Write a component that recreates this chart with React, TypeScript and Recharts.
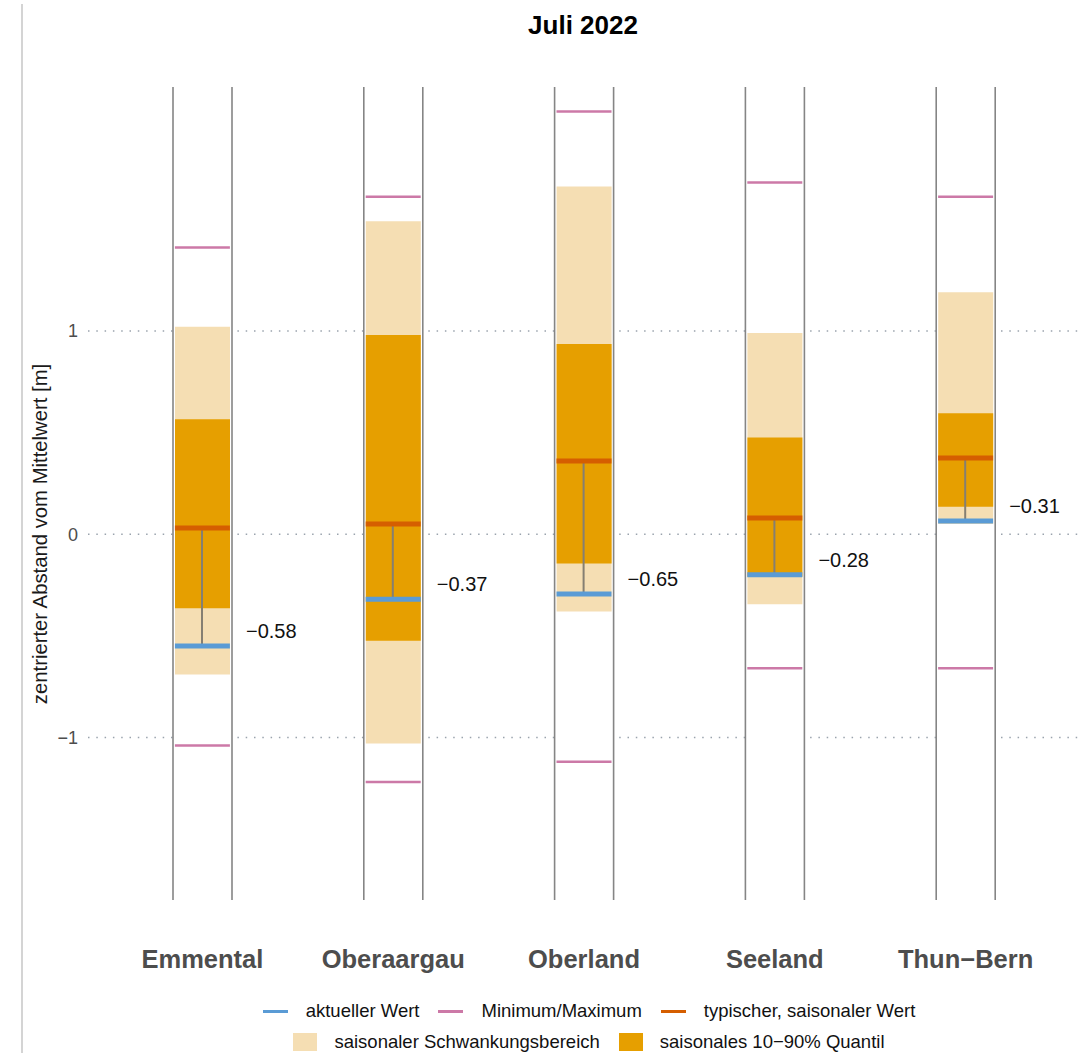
import {
  ComposedChart,
  Bar,
  Scatter,
  XAxis,
  YAxis,
  CartesianGrid,
  LabelList,
} from "recharts";

const regionen = ["Emmental", "Oberaargau", "Oberland", "Seeland", "Thun−Bern"];
const aktuell = [-0.55, -0.32, -0.295, -0.2, 0.065];
const typisch = [0.03, 0.05, 0.36, 0.08, 0.375];
const minimum = [-1.04, -1.22, -1.12, -0.66, -0.66];
const maximum = [1.41, 1.66, 2.08, 1.73, 1.66];
const schwankungUnten = [-0.69, -1.03, -0.38, -0.345, 0.05];
const schwankungOben = [1.02, 1.54, 1.71, 0.99, 1.19];
const quantil10 = [-0.365, -0.525, -0.145, -0.21, 0.135];
const quantil90 = [0.565, 0.98, 0.935, 0.475, 0.595];
const abweichung = [-0.58, -0.37, -0.65, -0.28, -0.31];
const yTicks = [-1, 0, 1];
const yDomain = [-1.8, 2.2];

const FONT = '"Liberation Sans", Arial, sans-serif';
const C_BAND = "#F5DEB3";
const C_QUANT = "#E69F00";
const C_TYP = "#D55E00";
const C_AKT = "#5A9BD5";
const C_MINMAX = "#CC79A7";

const data = regionen.map((region, i) => ({
  region,
  panel: yDomain,
  band: [schwankungUnten[i], schwankungOben[i]],
  quantil: [quantil10[i], quantil90[i]],
  verbindung: [aktuell[i], typisch[i]],
  typisch: typisch[i],
  aktuell: aktuell[i],
  minimum: minimum[i],
  maximum: maximum[i],
  abweichung: abweichung[i],
}));

const fmt = (v: number) => v.toFixed(2).replace("-", "−");

/* eslint-disable @typescript-eslint/no-explicit-any */
function PanelShape(props: any) {
  const { x, y, width, height } = props;
  return (
    <g>
      <rect x={x} y={y} width={width} height={height} fill="#fff" />
      <line x1={x} x2={x} y1={y} y2={y + height} stroke="#858585" strokeWidth={1.6} />
      <line x1={x + width} x2={x + width} y1={y} y2={y + height} stroke="#858585" strokeWidth={1.6} />
    </g>
  );
}

const hLine = (color: string, thick: number) =>
  function HLine(props: any) {
    const { cx, cy } = props;
    if (cx == null || cy == null) return <g />;
    return (
      <line x1={cx - 27.5} x2={cx + 27.5} y1={cy} y2={cy} stroke={color} strokeWidth={thick} />
    );
  };

function RegionTick(props: any) {
  const { x, y, payload } = props;
  return (
    <text
      x={x}
      y={y}
      dy={60}
      textAnchor="middle"
      fontFamily={FONT}
      fontWeight="bold"
      fontSize={25.5}
      fill="#4d4d4d"
    >
      {payload.value}
    </text>
  );
}

// label sits just above the current value (lower end of the connector)
function WertLabel(props: any) {
  const { x, y, width, height, value } = props;
  const cx = x + width / 2;
  const yLow = Math.max(y, y + height);
  return (
    <text x={cx + 44} y={yLow - 15} dominantBaseline="central" fontFamily={FONT} fontSize={20} fill="#111">
      {fmt(value)}
    </text>
  );
}
/* eslint-enable @typescript-eslint/no-explicit-any */

const lineKeys = [
  { color: C_AKT, label: "aktueller Wert" },
  { color: C_MINMAX, label: "Minimum/Maximum" },
  { color: C_TYP, label: "typischer, saisonaler Wert" },
];
const fillKeys = [
  { color: C_BAND, label: "saisonaler Schwankungsbereich" },
  { color: C_QUANT, label: "saisonales 10−90% Quantil" },
];

export default function App() {
  const padding = { left: 19, right: 19 };
  return (
    <div
      style={{
        position: "absolute",
        left: 0,
        top: 0,
        width: 1092,
        height: 1053,
        background: "#fff",
        fontFamily: FONT,
        overflow: "hidden",
      }}
    >
      <div
        style={{
          position: "absolute",
          left: 21,
          top: 4,
          width: 2,
          height: 1049,
          background: "#d4d4d4",
        }}
      />
      <div
        style={{
          position: "absolute",
          left: 383,
          width: 400,
          top: 10,
          textAlign: "center",
          fontSize: 26,
          fontWeight: "bold",
          color: "#000",
          lineHeight: "30px",
        }}
      >
        Juli 2022
      </div>

      <ComposedChart
        width={1092}
        height={1053}
        data={data}
        margin={{ top: 87, right: 12, bottom: 83, left: 0 }}
      >
        <CartesianGrid
          vertical={false}
          horizontalValues={yTicks}
          stroke="#9aa3ad"
          strokeWidth={1.5}
          strokeDasharray="1.5 6.8"
        />
        <XAxis
          dataKey="region"
          type="category"
          padding={padding}
          axisLine={false}
          tickLine={false}
          height={70}
          tick={<RegionTick />}
        />
        <XAxis xAxisId="b" dataKey="region" type="category" padding={padding} hide />
        <XAxis xAxisId="q" dataKey="region" type="category" padding={padding} hide />
        <XAxis xAxisId="v" dataKey="region" type="category" padding={padding} hide />
        <XAxis xAxisId="p" dataKey="region" type="category" padding={padding} hide />
        <YAxis
          width={88}
          domain={yDomain}
          ticks={yTicks}
          allowDataOverflow
          axisLine={false}
          tickLine={false}
          tickMargin={4}
          tickFormatter={(v: number) => String(v).replace("-", "−")}
          tick={{ fontSize: 18, fill: "#4d4d4d", fontFamily: FONT }}
          label={{
            content: () => (
              <text
                transform="translate(40,534) rotate(-90)"
                textAnchor="middle"
                dominantBaseline="central"
                fontFamily={FONT}
                fontSize={20.3}
                fill="#1a1a1a"
              >
                zentrierter Abstand vom Mittelwert [m]
              </text>
            ),
          }}
        />
        <Bar xAxisId="p" dataKey="panel" barSize={59} shape={<PanelShape />} isAnimationActive={false} />
        <Bar xAxisId="b" dataKey="band" barSize={55} fill={C_BAND} isAnimationActive={false} />
        <Bar xAxisId="q" dataKey="quantil" barSize={55} fill={C_QUANT} isAnimationActive={false} />
        <Bar xAxisId="v" dataKey="verbindung" barSize={2} fill="#857f72" isAnimationActive={false}>
          <LabelList dataKey="abweichung" content={<WertLabel />} />
        </Bar>
        <Scatter dataKey="typisch" shape={hLine(C_TYP, 5)} isAnimationActive={false} />
        <Scatter dataKey="aktuell" shape={hLine(C_AKT, 5)} isAnimationActive={false} />
        <Scatter dataKey="minimum" shape={hLine(C_MINMAX, 2.5)} isAnimationActive={false} />
        <Scatter dataKey="maximum" shape={hLine(C_MINMAX, 2.5)} isAnimationActive={false} />
      </ComposedChart>

      <div
        style={{
          position: "absolute",
          top: 998,
          left: 0,
          width: 1092,
          paddingLeft: 86,
          boxSizing: "border-box",
          fontSize: 18.5,
          color: "#111",
        }}
      >
        <div style={{ display: "flex", justifyContent: "center", alignItems: "center", height: 26, gap: 19 }}>
          {lineKeys.map((k) => (
            <div key={k.label} style={{ display: "flex", alignItems: "center", gap: 18 }}>
              <span style={{ width: 25, height: 3, background: k.color, display: "inline-block" }} />
              <span>{k.label}</span>
            </div>
          ))}
        </div>
        <div style={{ display: "flex", justifyContent: "center", alignItems: "center", height: 26, marginTop: 5, gap: 19 }}>
          {fillKeys.map((k) => (
            <div key={k.label} style={{ display: "flex", alignItems: "center", gap: 17 }}>
              <span style={{ width: 24, height: 18, background: k.color, display: "inline-block" }} />
              <span>{k.label}</span>
            </div>
          ))}
        </div>
      </div>
    </div>
  );
}
